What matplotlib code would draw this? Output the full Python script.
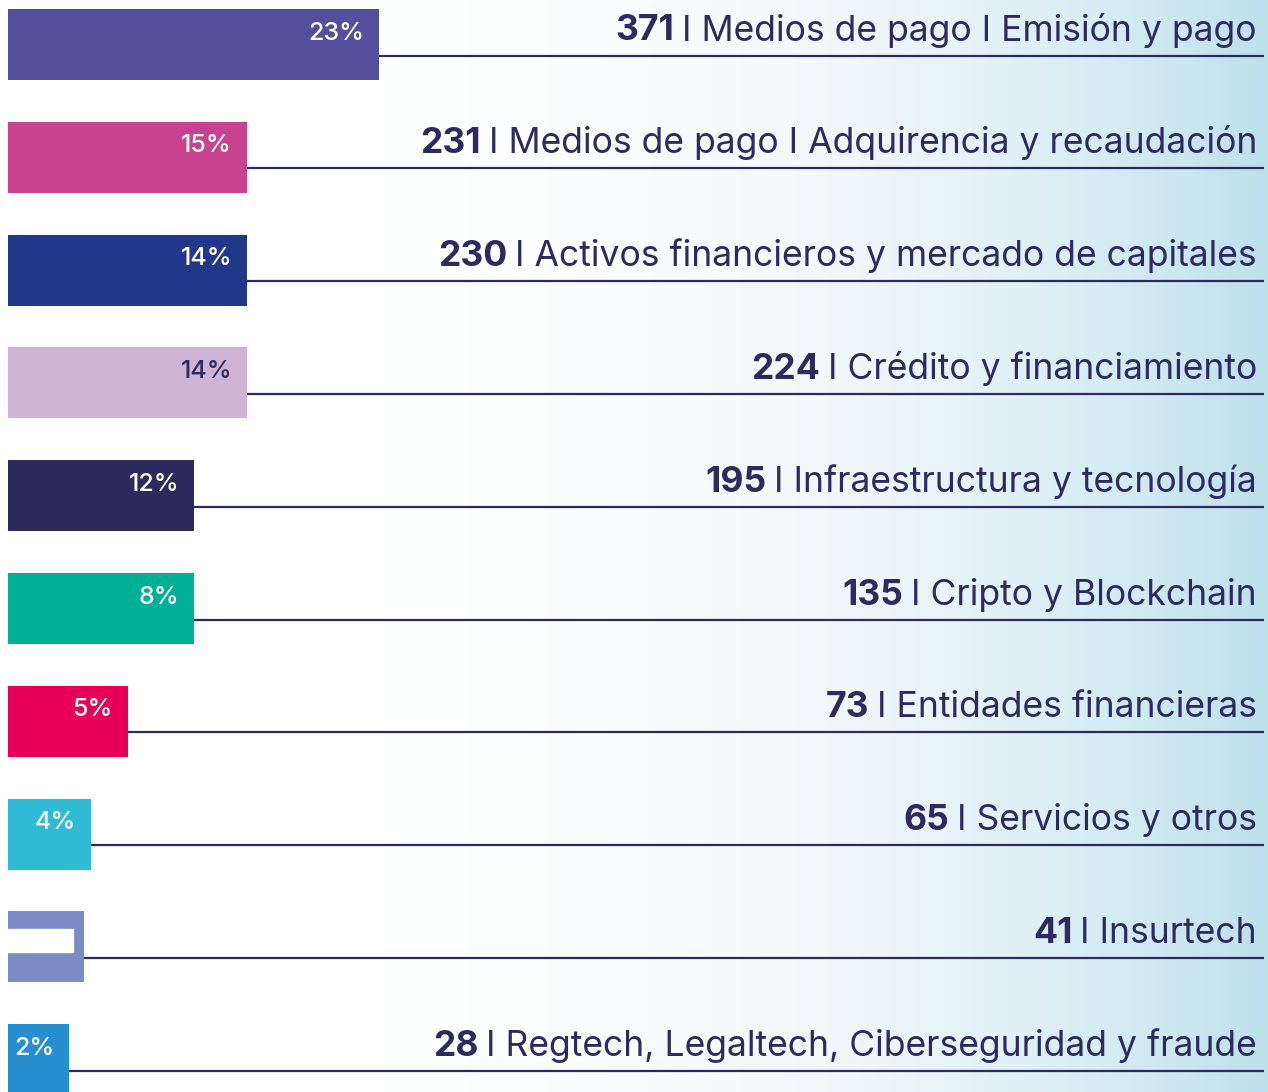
import numpy as np
import matplotlib
matplotlib.use('Agg')
from matplotlib import pyplot as plt
from matplotlib.patches import Rectangle

# data
counts = ['371', '231', '230', '224', '195', '135', '73', '65', '41', '28']
categories = [
	'Medios de pago I Emisión y pago',
	'Medios de pago I Adquirencia y recaudación',
	'Activos financieros y mercado de capitales',
	'Crédito y financiamiento',
	'Infraestructura y tecnología',
	'Cripto y Blockchain',
	'Entidades financieras',
	'Servicios y otros',
	'Insurtech',
	'Regtech, Legaltech, Ciberseguridad y fraude',
]
pct_labels = ['23%', '15%', '14%', '14%', '12%', '8%', '5%', '4%', '', '2%']
bar_lengths = [371, 239, 239, 239, 186, 186, 120, 83, 76, 61]

colors = ['#544f9a', '#c7428f', '#21388a', '#cfb3d6', '#2d2a5e',
		  '#00b096', '#e6005a', '#2fbad6', '#7a8bc6', '#278fcf']
pct_colors = ['white'] * 10
pct_colors[3] = '#2d2a5e'
navy = '#2d2a5e'

W, H = 1268, 1092
x0 = 8            # pixel where bars start
row0 = 44.5       # pixel centre of first row
step = 112.8      # pixel spacing between rows
bar_h = 71 / step
px = 1 / step     # one pixel in y units
text_right = 1257 - x0
line_right = 1264 - x0

fig = plt.figure(figsize=(W / 100, H / 100), dpi=100)

# background gradient, white to light blue
bg = fig.add_axes([0, 0, 1, 1])
t = np.linspace(0, 1, 600) ** 3.5
white = np.array([1.0, 1.0, 1.0])
blue = np.array([189, 224, 236]) / 255
grad = white[None, :] * (1 - t[:, None]) + blue[None, :] * t[:, None]
bg.imshow(grad[None, :, :], aspect='auto', extent=[0, 1, 0, 1])
bg.axis('off')

ax = fig.add_axes([0, 0, 1, 1])
ax.patch.set_alpha(0)
ax.set_xlim(-x0, W - x0)
ax.set_ylim((H - row0) / step, -row0 / step)
ax.axis('off')

y = np.arange(len(counts))
ax.barh(y, bar_lengths, height=bar_h, color=colors, left=0)

renderer = fig.canvas.get_renderer()
for i in range(len(counts)):
	yl = y[i] + 11 * px
	ax.plot([bar_lengths[i], line_right], [yl, yl], color=navy, lw=1.6, solid_capstyle='butt')

	# percentage label inside the bar
	if pct_labels[i]:
		ax.text(bar_lengths[i] - 15, y[i] - 5 * px, pct_labels[i], ha='right', va='baseline',
				fontsize=18, color=pct_colors[i], fontweight='medium', family='Inter')

	# category text right aligned above the line, bold count in front
	ty = yl - 15 * px
	txt = ax.text(text_right, ty, 'I ' + categories[i], ha='right', va='baseline',
				  fontsize=25.6, color=navy, family='Inter')
	bb = txt.get_window_extent(renderer=renderer)
	ax.annotate(counts[i], xy=(text_right, ty), xycoords='data',
				xytext=(-(bb.width + 8), 0), textcoords='offset pixels',
				ha='right', va='baseline', fontsize=25.6, color=navy,
				fontweight='bold', family='Inter')

# white box covering the Insurtech bar label
ax.add_patch(Rectangle((-6, y[8] - 18 * px), 71, 23 * px, color='white', zorder=3))

fig.savefig('out.png', dpi=100)
